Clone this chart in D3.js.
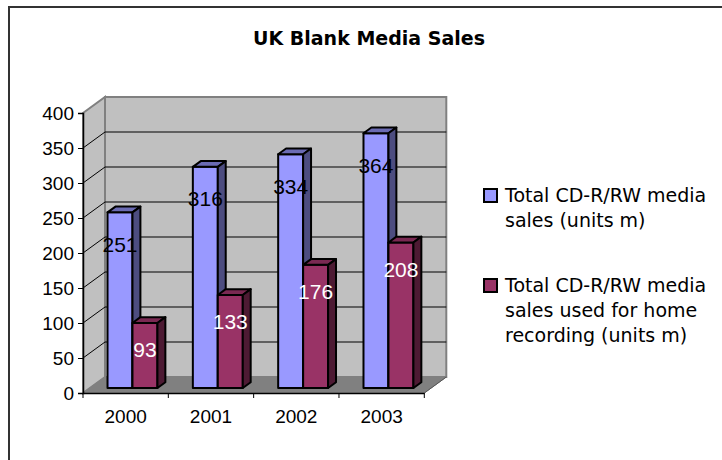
<!DOCTYPE html>
<html>
<head>
<meta charset="utf-8">
<script src="https://cdn.jsdelivr.net/npm/d3@7"></script>
<style>
  body { margin: 0; background: #fff; }
  svg { display: block; }
</style>
</head>
<body>
<svg></svg>
<script>
var categories = ['2000', '2001', '2002', '2003'];
var totalSales = [251, 316, 334, 364];
var homeRecording = [93, 133, 176, 208];
var yTicks = [0, 50, 100, 150, 200, 250, 300, 350, 400];
var legendLabels = [
  ['Total CD-R/RW media', 'sales (units m)'],
  ['Total CD-R/RW media', 'sales used for home', 'recording (units m)']
];

var width = 722;
var height = 460;

// depth of the 3d box
var depthX = 22;
var depthY = -16;
var barDepth0 = 0.31;
var barDepth1 = 0.67;

var series = [
  { name: 'total', values: totalSales, front: '#9999ff', top: '#6b6bb3', side: '#4d4d80', label: '#000' },
  { name: 'home', values: homeRecording, front: '#993366', top: '#7a2952', side: '#4d1a33', label: '#fff' }
];

var svg = d3.select('svg')
  .attr('width', width)
  .attr('height', height);

var x = d3.scaleBand()
  .domain(categories)
  .range([83, 424.3]);

var inner = d3.scaleBand()
  .domain(series.map(function(s) { return s.name; }))
  .range([17.7, x.bandwidth() - 17.7]);

var y = d3.scaleLinear()
  .domain([0, 400])
  .range([393, 113]);

function px(xv, f) { return xv + depthX * f; }
function py(yv, f) { return yv + depthY * f; }

// chart area border
svg.append('rect')
  .attr('x', 9).attr('y', 7)
  .attr('width', 800).attr('height', 600)
  .attr('fill', '#fff')
  .attr('stroke', '#333')
  .attr('stroke-width', 2);

svg.append('text')
  .attr('x', 369)
  .attr('y', 38)
  .attr('text-anchor', 'middle')
  .attr('dominant-baseline', 'central')
  .style('font-family', 'DejaVu Sans')
  .style('font-weight', 'bold')
  .style('font-size', '19px')
  .text('UK Blank Media Sales');

var x0 = x.range()[0], x1 = x.range()[1];
var yTop = y(400), yBot = y(0);

// walls
var walls = svg.append('g');
walls.append('polygon')
  .attr('points', [[px(x0, 1), py(yTop, 1)], [px(x1, 1), py(yTop, 1)], [px(x1, 1), py(yBot, 1)], [px(x0, 1), py(yBot, 1)]].join(' '))
  .attr('fill', '#c0c0c0')
  .attr('stroke', '#808080')
  .attr('stroke-width', 2);
walls.append('polygon')
  .attr('points', [[x0, yTop], [px(x0, 1), py(yTop, 1)], [px(x0, 1), py(yBot, 1)], [x0, yBot]].join(' '))
  .attr('fill', '#c0c0c0')
  .attr('stroke', '#808080')
  .attr('stroke-width', 2);
walls.append('polygon')
  .attr('points', [[x0, yBot], [px(x0, 1), py(yBot, 1)], [px(x1, 1), py(yBot, 1)], [x1, yBot]].join(' '))
  .attr('fill', '#808080')
  .attr('stroke', '#808080')
  .attr('stroke-width', 1);

// grid lines
var grid = svg.append('g')
  .attr('stroke', '#000')
  .attr('stroke-width', 1);
grid.selectAll('.gb')
  .data(yTicks.filter(function(d) { return d > 0 && d < 400; }))
  .enter().append('line')
  .attr('x1', px(x0, 1)).attr('x2', px(x1, 1))
  .attr('y1', function(d) { return py(y(d), 1); })
  .attr('y2', function(d) { return py(y(d), 1); });
grid.selectAll('.gl')
  .data(yTicks.filter(function(d) { return d > 0 && d < 400; }))
  .enter().append('line')
  .attr('x1', x0).attr('x2', px(x0, 1))
  .attr('y1', function(d) { return y(d); })
  .attr('y2', function(d) { return py(y(d), 1); });

// bars
var bars = svg.append('g')
  .attr('stroke', '#000')
  .attr('stroke-width', 2)
  .attr('stroke-linejoin', 'round');

categories.forEach(function(cat, i) {
  series.forEach(function(s) {
    var bx0 = x(cat) + inner(s.name);
    var bx1 = bx0 + inner.bandwidth();
    var top = y(s.values[i]);
    var g = bars.append('g');
    // front
    g.append('polygon')
      .attr('points', [[px(bx0, barDepth0), py(top, barDepth0)], [px(bx1, barDepth0), py(top, barDepth0)],
        [px(bx1, barDepth0), py(yBot, barDepth0)], [px(bx0, barDepth0), py(yBot, barDepth0)]].join(' '))
      .attr('fill', s.front);
    // top
    g.append('polygon')
      .attr('points', [[px(bx0, barDepth0), py(top, barDepth0)], [px(bx0, barDepth1), py(top, barDepth1)],
        [px(bx1, barDepth1), py(top, barDepth1)], [px(bx1, barDepth0), py(top, barDepth0)]].join(' '))
      .attr('fill', s.top);
    // side
    g.append('polygon')
      .attr('points', [[px(bx1, barDepth0), py(top, barDepth0)], [px(bx1, barDepth1), py(top, barDepth1)],
        [px(bx1, barDepth1), py(yBot, barDepth1)], [px(bx1, barDepth0), py(yBot, barDepth0)]].join(' '))
      .attr('fill', s.side);
  });
});

// data labels
categories.forEach(function(cat, i) {
  series.forEach(function(s, j) {
    var cx = px(x(cat) + inner(s.name) + inner.bandwidth() / 2, barDepth0);
    var top = py(y(s.values[i]), barDepth0);
    svg.append('text')
      .attr('x', cx)
      .attr('y', top + (j === 0 ? 32 : 27))
      .attr('text-anchor', 'middle')
      .attr('dominant-baseline', 'central')
      .attr('fill', s.label)
      .style('font-family', 'Liberation Sans')
      .style('font-size', '21px')
      .text(s.values[i]);
  });
});

// axes
var yAxis = d3.axisLeft(y)
  .tickValues(yTicks)
  .tickSize(5)
  .tickPadding(4);
var yg = svg.append('g')
  .attr('transform', 'translate(' + x0 + ',0)')
  .call(yAxis);

var xAxis = d3.axisBottom(x)
  .tickSize(0)
  .tickPadding(17);
var xg = svg.append('g')
  .attr('transform', 'translate(0,' + yBot + ')')
  .call(xAxis);

xg.selectAll('.tick-mark')
  .data(categories.concat(['end']))
  .enter().append('line')
  .attr('x1', function(d, i) { return i < categories.length ? x(d) : x1; })
  .attr('x2', function(d, i) { return i < categories.length ? x(d) : x1; })
  .attr('y1', 0).attr('y2', 5)
  .attr('stroke', '#000');

[yg, xg].forEach(function(g) {
  g.select('.domain').attr('stroke', '#000').attr('stroke-width', 1.5);
  g.selectAll('text')
    .attr('fill', '#000')
    .style('font-family', 'Liberation Sans')
    .style('font-size', '19px');
});

// floor right edge
svg.append('line')
  .attr('x1', x1).attr('y1', yBot)
  .attr('x2', px(x1, 1)).attr('y2', py(yBot, 1))
  .attr('stroke', '#555')
  .attr('stroke-width', 1);

// legend
var legendTop = [202, 292];
var legend = svg.append('g');
legendLabels.forEach(function(lines, i) {
  var s = series[i];
  legend.append('rect')
    .attr('x', 484)
    .attr('y', legendTop[i] - 13)
    .attr('width', 13)
    .attr('height', 13)
    .attr('fill', s.front)
    .attr('stroke', '#000')
    .attr('stroke-width', 2);
  legend.append('text')
    .style('font-family', 'DejaVu Sans')
    .style('font-size', '19px')
    .attr('fill', '#000')
    .selectAll('tspan')
    .data(lines)
    .enter().append('tspan')
    .attr('x', 505)
    .attr('y', function(d, k) { return legendTop[i] + k * 25; })
    .text(function(d) { return d; });
});
</script>
</body>
</html>
